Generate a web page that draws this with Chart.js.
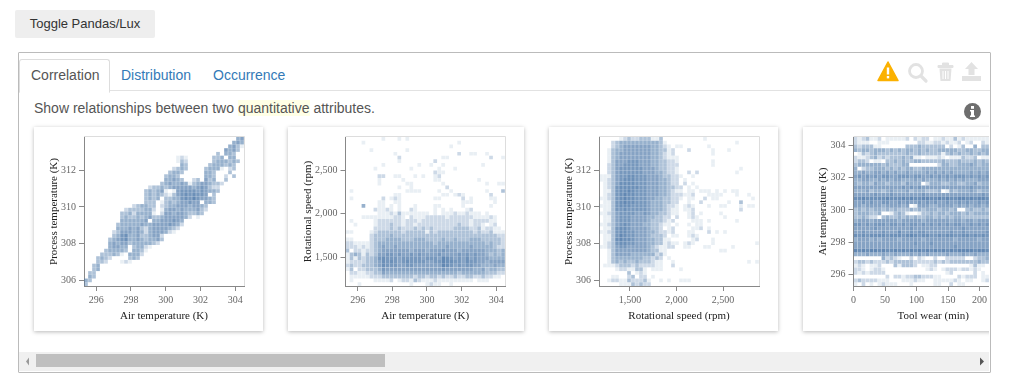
<!DOCTYPE html>
<html>
<head>
<meta charset="utf-8">
<script src="https://cdn.jsdelivr.net/npm/chart.js@4"></script>
<style>
html, body { margin: 0; padding: 0; background: #fff; width: 1010px; height: 386px; overflow: hidden; font-family: "Liberation Sans", Arial, sans-serif; }
.abs { position: absolute; }
#toggle { left: 15px; top: 10px; width: 140px; height: 28px; background: #eee; border-radius: 2px; font-size: 13px; line-height: 28px; text-align: center; color: #333; }
#box { left: 18px; top: 52px; width: 971px; height: 319px; border: 1px solid #bbb; border-radius: 1px; }
#strip { left: 19px; top: 90px; width: 971px; height: 1px; background: #e2e2e2; }
#tab { left: 19px; top: 59px; width: 89px; height: 32px; border: 1px solid #ddd; border-bottom: 1px solid #fff; border-radius: 3px 3px 0 0; background: #fff; }
.tabtext { top: 66px; font-size: 14px; line-height: 18px; color: #337ab7; }
#sub { left: 34px; top: 100px; font-size: 14px; line-height: 16px; color: #555; white-space: nowrap; }
#sub span { background: #ffffe6; }
#clip { left: 19px; top: 120px; width: 970px; height: 232px; overflow: hidden; }
.card { position: absolute; top: 7px; height: 204px; background: #fff; box-shadow: 0 1px 4px rgba(0,0,0,.28); }
.card canvas { position: absolute; left: 0; top: 0; }
#bar { left: 19px; top: 352px; width: 970px; height: 19px; background: #f0f0f0; }
#thumb { left: 36px; top: 354px; width: 349px; height: 13px; background: #bfbfbf; }
</style>
</head>
<body>
<div id="toggle" class="abs">Toggle Pandas/Lux</div>
<div id="box" class="abs"></div>
<div id="strip" class="abs"></div>
<div id="tab" class="abs"></div>
<div class="abs tabtext" style="left:31px;color:#555">Correlation</div>
<div class="abs tabtext" style="left:121px">Distribution</div>
<div class="abs tabtext" style="left:213px">Occurrence</div>
<div id="sub" class="abs">Show relationships between two <span>quantitative</span> attributes.</div>

<svg class="abs" style="left:870px;top:55px" width="120" height="70" viewBox="870 55 120 70">
  <path d="M888 62 L898 80.5 L878 80.5 Z" fill="#fbb100" stroke="#fbb100" stroke-width="1.5" stroke-linejoin="round"/>
  <rect x="886.8" y="67.5" width="2.4" height="7" fill="#fff"/><rect x="886.8" y="76" width="2.4" height="2.4" fill="#fff"/>
  <circle cx="916" cy="71" r="6.5" fill="none" stroke="#e2e2e2" stroke-width="2.8"/>
  <path d="M921 76 L926 81" stroke="#e2e2e2" stroke-width="3.2" stroke-linecap="round"/>
  <path d="M938 65.5 H953 V67.5 H938 Z M942.5 65.5 V63 H948.5 V65.5" fill="#e2e2e2" stroke="#e2e2e2"/>
  <path d="M939.5 68.5 H951.5 L950.5 81 H940.5 Z" fill="#e2e2e2"/>
  <path d="M943 71 V79 M945.5 71 V79 M948 71 V79" stroke="#fff" stroke-width="1"/>
  <path d="M971.5 62 L978 69 H974.5 V75 H968.5 V69 H965 Z" fill="#e2e2e2"/>
  <path d="M962 76 H981 V81 H962 Z" fill="#e2e2e2"/>
  <circle cx="972.5" cy="111.5" r="8.5" fill="#6e6e6e"/>
  <rect x="971" y="106" width="3" height="2.8" fill="#fff"/>
  <path d="M970 110 H974 V115.5 H975 V117 H970 V115.5 H971 V111.5 H970 Z" fill="#fff"/>
</svg>

<div id="clip" class="abs">
  <div class="card" style="left:15px;width:229px"><canvas id="c1" width="229" height="204"></canvas></div>
  <div class="card" style="left:269px;width:236px"><canvas id="c2" width="236" height="204"></canvas></div>
  <div class="card" style="left:530px;width:229px"><canvas id="c3" width="229" height="204"></canvas></div>
  <div class="card" style="left:784px;width:229px"><canvas id="c4" width="229" height="204"></canvas></div>
</div>

<div id="bar" class="abs"></div>
<div id="thumb" class="abs"></div>
<svg class="abs" style="left:19px;top:352px" width="970" height="19">
  <path d="M10 5.5 L7 9.5 L10 13.5 Z" fill="#9a9a9a"/>
  <path d="M961 5.5 L965 9.5 L961 13.5 Z" fill="#555"/>
</svg>

<script>
// attribute domains and tick labels
const airTempRange = [295.3, 304.5];
const procTempRange = [305.7, 313.8];
const rpmRange = [1168, 2886];
const toolWearRange = [0, 253];
const airTempTicks = [296, 298, 300, 302, 304];
const procTempTicks = [306, 308, 310, 312];
const rpmTicks = [1500, 2000, 2500];
const toolWearTicks = [0, 50, 100, 150, 200];

// binned counts, one string per row from the top, one digit per bin
const airVsProc = [
  "0000000000 0000000000 0000000000 0000000045",
  "0000000000 0000000000 0000000000 0000000454",
  "0000000000 0000000000 0000000000 0000004531",
  "0000000000 0000000000 0000000000 0000054530",
  "0000000000 0000000000 0000000000 0003044300",
  "0000000000 0000000000 0001210000 0033404400",
  "0000000000 0000000000 0001320000 0034443430",
  "0000000000 0000000000 0000430000 0344434300",
  "0000000000 0000000000 0023430000 3444102300",
  "0000000000 0000000000 0344300000 4430003000",
  "0000000000 0000000000 3443000000 4430020300",
  "0000000000 0000000000 4454300230 5340030000",
  "0000000000 0000000003 4544541345 5433200000",
  "0000000000 0000002334 3455555456 5322000000",
  "0000000000 0000034345 1015666656 5443000000",
  "0000000000 0000034343 2135676766 5030000000",
  "0000000000 0000034340 3344676865 5430000000",
  "0000000000 0000033301 3434556550 4430000000",
  "0000000000 0023443302 3445554554 3000000000",
  "0000000000 2333344201 4554544453 2000000000",
  "0000000003 3424444102 5545543343 0000000000",
  "0000000003 4334345334 5555542010 0000000000",
  "0000000004 4444450445 5565400000 0000000000",
  "0000000034 4444544555 5654200000 0000000000",
  "0000000044 4545324555 5432000000 0000000000",
  "0000000235 5545424555 4210000000 0000000000",
  "0000000346 7445334552 0000000000 0000000000",
  "0000003456 7445434453 0000000000 0000000000",
  "0000004545 5344444320 0000000000 0000000000",
  "0000004554 4034421000 0000000000 0000000000",
  "0000034444 3044310000 0000000000 0000000000",
  "0000333431 0444200000 0000000000 0000000000",
  "0003432000 0343000000 0000000000 0000000000",
  "0003320001 2100000000 0000000000 0000000000",
  "0034000000 0000000000 0000000000 0000000000",
  "0034000000 0000000000 0000000000 0000000000",
  "0330000000 0000000000 0000000000 0000000000",
  "0430000000 0000000000 0000000000 0000000000",
  "4300000000 0000000000 0000000000 0000000000",
  "3000000000 0000000000 0000000000 0000000000"
];
const airVsRpm = [
  "0000000001 0001010000 0000000000 0000000000",
  "0000100000 0000000000 0000000010 0000000000",
  "0000000000 0000000000 0000001000 0000000000",
  "0000001000 0000010000 0000000000 0000000000",
  "0000000000 0010000000 0000000020 0110010000",
  "0000000000 0002000000 0000110000 0000002001",
  "0000000000 0001000000 0020000000 0000000000",
  "0000000001 0000000010 0100100000 0000100000",
  "0000000100 0000001000 0001000100 0000000000",
  "0000000000 0000000000 0021100000 0000000000",
  "0000000022 0011000101 0012000000 0000000000",
  "0000000010 0000100000 0011000000 0001000000",
  "0000000010 0000011000 0000100000 0000010011",
  "0000000000 0001001000 0000020000 0000000000",
  "0100000000 0000011110 0001001000 0000010003",
  "0000000000 0011000000 0000110121 0000002000",
  "0100000002 0121000000 0011000002 0100001100",
  "0000000011 0011000000 0000000001 1100000100",
  "0000400011 0101000100 0011000001 0000001000",
  "0000000211 2101002100 0010101000 1200000000",
  "0000000011 1213111111 1010111211 2111010000",
  "0000111111 1122102111 2222212222 2211112100",
  "0100000122 2222122212 2222222222 2122221100",
  "0010000122 2322122122 2222222232 2122101200",
  "0000000222 2323222323 2322222333 3223122110",
  "1100001233 3333233333 1323333333 3323223111",
  "0000002333 3433333333 3333333333 3333333322",
  "1100002333 4444333444 3333433433 3444333332",
  "2211112344 4444444444 4434444444 4444434332",
  "2221212345 4454444444 4444454444 4544444322",
  "3022122345 5555554555 4555655545 5555544434",
  "1343132355 6656556565 5556555565 6565543434",
  "1313233467 6665666665 6665876565 7565554444",
  "1222233457 6765676666 5566877665 7665545555",
  "2322333457 6665566555 5555876565 6655444544",
  "1302233346 5555555555 5555655555 5544534433",
  "0221122335 4444444444 4444444434 4444433322",
  "0111112223 3333333233 2332322322 3322322110",
  "0100000111 1201221321 1121111111 1101110000",
  "0001000000 0000001000 1211001000 0000000000"
];
const rpmVsProc = [
  "0000012322 3331130000 0000001000 0000000000",
  "0002344444 4444431000 0000000000 0000100000",
  "0002345555 5554432101 1000000100 0000000000",
  "0013445555 5554433120 0020000010 0010000000",
  "0013455555 5554432120 0000000010 0000000000",
  "0013455555 5554432111 0000000000 0000000000",
  "0013555666 5554433221 0000000010 0000000000",
  "0023556666 5554433222 0000000010 0000000000",
  "0023566666 6555433221 0000000000 0000010000",
  "0023566666 6555443221 0020200000 0000100000",
  "1113566776 6655543322 1001000000 0000000000",
  "1123567776 6655544322 0100000000 0000000000",
  "0123577776 6655544322 0201000000 0000000000",
  "0123677777 6655544332 2010100000 0000000000",
  "0113677876 6655544321 1011011101 0101100000",
  "0123678776 6655544322 2112000111 1000100100",
  "1123678776 6655443322 1011002011 0000000010",
  "0113678776 6654443322 0010020000 0010030000",
  "1113677766 6654443221 0121000100 1100010110",
  "0113667666 6654443211 0112000000 0000020000",
  "1123566665 5654433211 0012010000 1000000000",
  "0113566655 5544332202 0012100000 0100000000",
  "0113566655 5543332120 0001110100 0000100000",
  "1123567655 5443321101 0010110000 0000000000",
  "0113677655 5543320120 0001120100 0000000000",
  "1123677665 5544322120 0011000201 0100000000",
  "0113687665 5543332011 0012100000 0000000000",
  "0113787765 5544331100 0001200010 0000000000",
  "0123677665 5544331211 0121000010 0000000001",
  "1123566555 5543211220 0110001100 0001000000",
  "0013555555 5543311000 0000000000 1100000000",
  "0013555544 4444231000 0000000000 0000000000",
  "0013444444 4332320100 0000000000 0000000000",
  "0013434334 3332110010 0000000000 0000000101",
  "0111233323 2222110020 0000000000 0000000000",
  "0000122113 3101110000 1000000000 0000000000",
  "0000000301 2100000000 0000000000 0000000000",
  "0001100230 2201000000 0000000000 0000000000",
  "0012211322 2310010100 1110000000 0000000000",
  "0000011132 3220000000 0000000000 0000000000"
];
const wearVsAir = [
  "2123112011 1112021220 1121131211 1111000000",
  "2111001110 0000002211 2212112012 0021100000",
  "3233311000 0003334333 3330201300 4033033333",
  "4344344434 3434434343 3444443344 3344334433",
  "0132343333 3334334333 3313434334 3434344344",
  "2112342323 3343411011 1210111322 3011110001",
  "2332011033 4343344333 3343334333 4343343343",
  "3444444343 3344000000 0244334445 4344435444",
  "4023344434 3434433444 4444444444 4444444444",
  "4454455454 5445444454 5454544445 4545444544",
  "5656565665 5666566556 5656566656 5656566565",
  "4455445454 5544454544 4545454544 4555454545",
  "4344354434 4435444024 4433443344 5344344344",
  "5555555555 5565656555 5555555556 5555556555",
  "4445344345 4445344433 3401434445 4344034454",
  "5555565556 5555555655 5555555555 5565555655",
  "7787777787 7787877887 7878778878 7887877777",
  "5565655665 5656556565 6556556565 5656565656",
  "5545555455 5545015554 4555545454 5545555444",
  "3434344343 4333434344 4344340034 3343433434",
  "3444334001 3431001334 3443444343 4444434433",
  "3343220343 3434343344 3434344333 3333222343",
  "4555455555 5455555455 5555455455 4555455555",
  "6656566656 6565665656 5656566556 5656565666",
  "5555565555 5555655555 5555555655 5555555555",
  "5565555655 5755656655 5555655655 5556555655",
  "7676777767 7767876776 6767766776 7676767776",
  "4555454555 5455555455 5555545555 5455554555",
  "5555555555 5555565556 5555555555 5555555555",
  "5555555555 5555555555 5555565555 5555555555",
  "8787887877 8787878787 8787878888 7887878787",
  "4445444544 5444545454 4445444544 5444544444",
  "0000000423 2100202100 2002222200 2334334323",
  "2332322232 3333322222 3232333333 3433322322",
  "1210112000 3133320112 2000000001 3110000021",
  "2210122100 0000000012 1012221221 2100122221",
  "2121222200 0000000000 0001200000 2010000000",
  "0000000020 2212233222 1100002122 2011111002",
  "2322221110 0011121100 1111121011 0012111211",
  "1020101211 1000100000 1100201100 0000000000"
];

const binCount = 40;
const cellRadius = 2.6;
const shadeOpacity = [0, 0.12, 0.28, 0.45, 0.58, 0.68, 0.76, 0.82, 0.88];

function binPoints(rows, xRange, yRange) {
  const pts = [];
  const colours = [];
  rows.forEach((row, r) => {
    row.replace(/ /g, '').split('').forEach((d, c) => {
      if (d === '0') return;
      pts.push({
        x: xRange[0] + (c + 0.5) * (xRange[1] - xRange[0]) / binCount,
        y: yRange[1] - (r + 0.5) * (yRange[1] - yRange[0]) / binCount
      });
      colours.push(`rgba(76, 120, 168, ${shadeOpacity[d]})`);
    });
  });
  return { pts, colours };
}

// light top and right edges of the plot frame
const frame = {
  id: 'frame',
  afterDraw(chart) {
    const { ctx, chartArea: a } = chart;
    ctx.save();
    ctx.strokeStyle = '#ddd';
    ctx.lineWidth = 1;
    ctx.beginPath();
    ctx.moveTo(a.left, a.top - 0.5);
    ctx.lineTo(a.right + 0.5, a.top - 0.5);
    ctx.lineTo(a.right + 0.5, a.bottom);
    ctx.stroke();
    ctx.restore();
  }
};

function axis(range, ticks, title, fit) {
  return {
    type: 'linear',
    min: range[0],
    max: range[1],
    afterBuildTicks: s => { s.ticks = ticks.map(v => ({ value: v })); },
    afterFit: fit,
    title: { display: true, text: title, color: '#222', font: { family: 'Liberation Serif', size: 11 }, padding: { top: 0, bottom: 8 } },
    ticks: {
      color: '#666',
      font: { family: 'Liberation Serif', size: 10 },
      padding: 3,
      maxRotation: 0,
      autoSkip: false,
      callback: v => v.toLocaleString('en-US')
    },
    grid: { drawOnChartArea: false, drawTicks: true, tickLength: 5, color: '#888' },
    border: { display: true, color: '#888' }
  };
}

function heatmap(id, rows, xRange, yRange, xTicks, yTicks, xTitle, yTitle, axisWidth) {
  const { pts, colours } = binPoints(rows, xRange, yRange);
  const ctx = document.getElementById(id).getContext('2d');
  const yAxis = axis(yRange, yTicks, yTitle, s => { s.width = axisWidth; });
  yAxis.title.padding = { top: 14, bottom: 0 };
  new Chart(ctx, {
    type: 'scatter',
    data: {
      datasets: [{
        data: pts,
        pointStyle: 'rect',
        pointRadius: cellRadius,
        pointBorderWidth: 0,
        pointBackgroundColor: colours
      }]
    },
    options: {
      responsive: false,
      animation: false,
      events: [],
      layout: { padding: { top: 10, right: 19, left: 0, bottom: 0 } },
      plugins: { legend: { display: false }, tooltip: { enabled: false } },
      scales: {
        x: axis(xRange, xTicks, xTitle, s => { s.height = 45; }),
        y: yAxis
      }
    },
    plugins: [frame]
  });
}

heatmap('c1', airVsProc, airTempRange, procTempRange, airTempTicks, procTempTicks, 'Air temperature (K)', 'Process temperature (K)', 50);
heatmap('c2', airVsRpm, airTempRange, rpmRange, airTempTicks, rpmTicks, 'Air temperature (K)', 'Rotational speed (rpm)', 57.5);
heatmap('c3', rpmVsProc, rpmRange, procTempRange, rpmTicks, procTempTicks, 'Rotational speed (rpm)', 'Process temperature (K)', 50);
heatmap('c4', wearVsAir, toolWearRange, airTempRange, toolWearTicks, airTempTicks, 'Tool wear (min)', 'Air temperature (K)', 50.5);
</script>
</body>
</html>
